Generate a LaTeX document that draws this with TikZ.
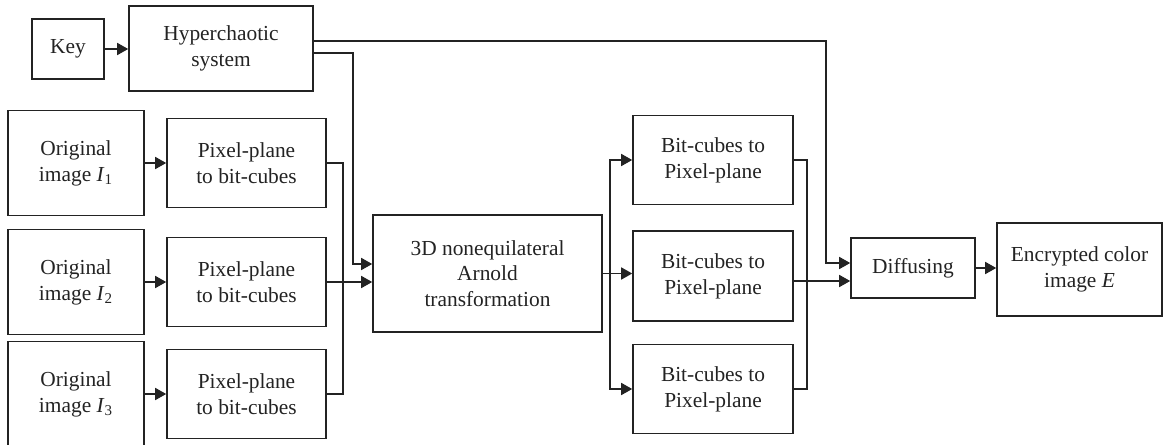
\documentclass[tikz,border=0pt]{standalone}
\usepackage{fontspec}
\setmainfont{Liberation Serif}
\usetikzlibrary{arrows.meta}
\definecolor{ink}{RGB}{35,35,35}
\tikzset{
  bx/.style 2 args={draw=ink, text=ink, line width=0.8pt, align=center,
    inner sep=0pt, minimum width=#1*0.5pt, minimum height=#2*0.5pt,
    font=\fontsize{10.7}{12.9}\selectfont},
  ln/.style={draw=ink, line width=0.8pt},
  arr/.style={ln, -{Triangle[length=5.5pt,width=6pt]}}
}
\begin{document}
\begin{tikzpicture}[x=0.5pt,y=-0.5pt]
\useasboundingbox (0,0) rectangle (1165,444);
\clip (0,0) rectangle (1165,444);

% key generation
\node[bx={72}{60}]  (key) at (68,49)    {Key};
\node[bx={184}{85}] (hyp) at (221,48.5) {Hyperchaotic\\system};

% plain images and their bit-cube decomposition
\node[bx={136}{105}] (o1) at (76,163) {Original\\image \textit{I}\textsubscript{1}};
\node[bx={136}{105}] (o2) at (76,282) {Original\\image \textit{I}\textsubscript{2}};
\node[bx={136}{105}] (o3) at (76,394) {Original\\image \textit{I}\textsubscript{3}};
\node[bx={159}{89}] (p1) at (246.5,163) {Pixel-plane\\to bit-cubes};
\node[bx={159}{89}] (p2) at (246.5,282) {Pixel-plane\\to bit-cubes};
\node[bx={159}{89}] (p3) at (246.5,394) {Pixel-plane\\to bit-cubes};

% scrambling
\node[bx={229}{117}] (arn) at (487.5,273.5) {3D nonequilateral\\Arnold\\transformation};

% back to pixel planes
\node[bx={160}{89}] (b1) at (713,160) {Bit-cubes to\\Pixel-plane};
\node[bx={160}{90}] (b2) at (713,276) {Bit-cubes to\\Pixel-plane};
\node[bx={160}{89}] (b3) at (713,389) {Bit-cubes to\\Pixel-plane};

% diffusion and result
\node[bx={124}{60}] (dif) at (913,268)    {Diffusing};
\node[bx={165}{93}] (enc) at (1079.5,269.5) {Encrypted color\\image \textit{E}};

% bend columns
\coordinate (hx1) at (826,0);
\coordinate (hx2) at (353,0);
\coordinate (px)  at (343,0);
\coordinate (bx1) at (610,0);
\coordinate (bx2) at (807,0);

% inputs of the scrambler and the diffuser
\coordinate (a1) at ([yshift=4.75pt]arn.west);
\coordinate (d1) at ([yshift=2.5pt]dif.west);
\coordinate (d2) at ([yshift=-6.5pt]dif.west);

\draw[arr] (key.east) -- (key.east -| hyp.west);

% chaotic sequences
\draw[arr] ([yshift=3.75pt]hyp.east) -| (hx1 |- d1) -- (d1);
\draw[arr] ([yshift=-2.25pt]hyp.east) -| (hx2 |- a1) -- (a1);

\draw[arr] (o1) -- (p1);
\draw[arr] (o2) -- (p2);
\draw[arr] (o3) -- (p3);

% bit-cubes gathered into the scrambler
\draw[ln] (p1.east) -- (p1.east -| px) -- (p3.east -| px) -- (p3.east);
\draw[arr] (p2.east) -- (p2.east -| arn.west);

% scrambled cubes split into three planes
\draw[arr] (arn.east) -- (arn.east -| b2.west);
\draw[arr] (bx1 |- arn.east) |- (b1.west);
\draw[arr] (bx1 |- arn.east) |- (b3.west);

% planes gathered into the diffuser
\draw[ln] (b1.east) -- (b1.east -| bx2) -- (b3.east -| bx2) -- (b3.east);
\draw[arr] ([yshift=-2.5pt]b2.east) -- (d2);

\draw[arr] (dif.east) -- (dif.east -| enc.west);
\end{tikzpicture}
\end{document}
